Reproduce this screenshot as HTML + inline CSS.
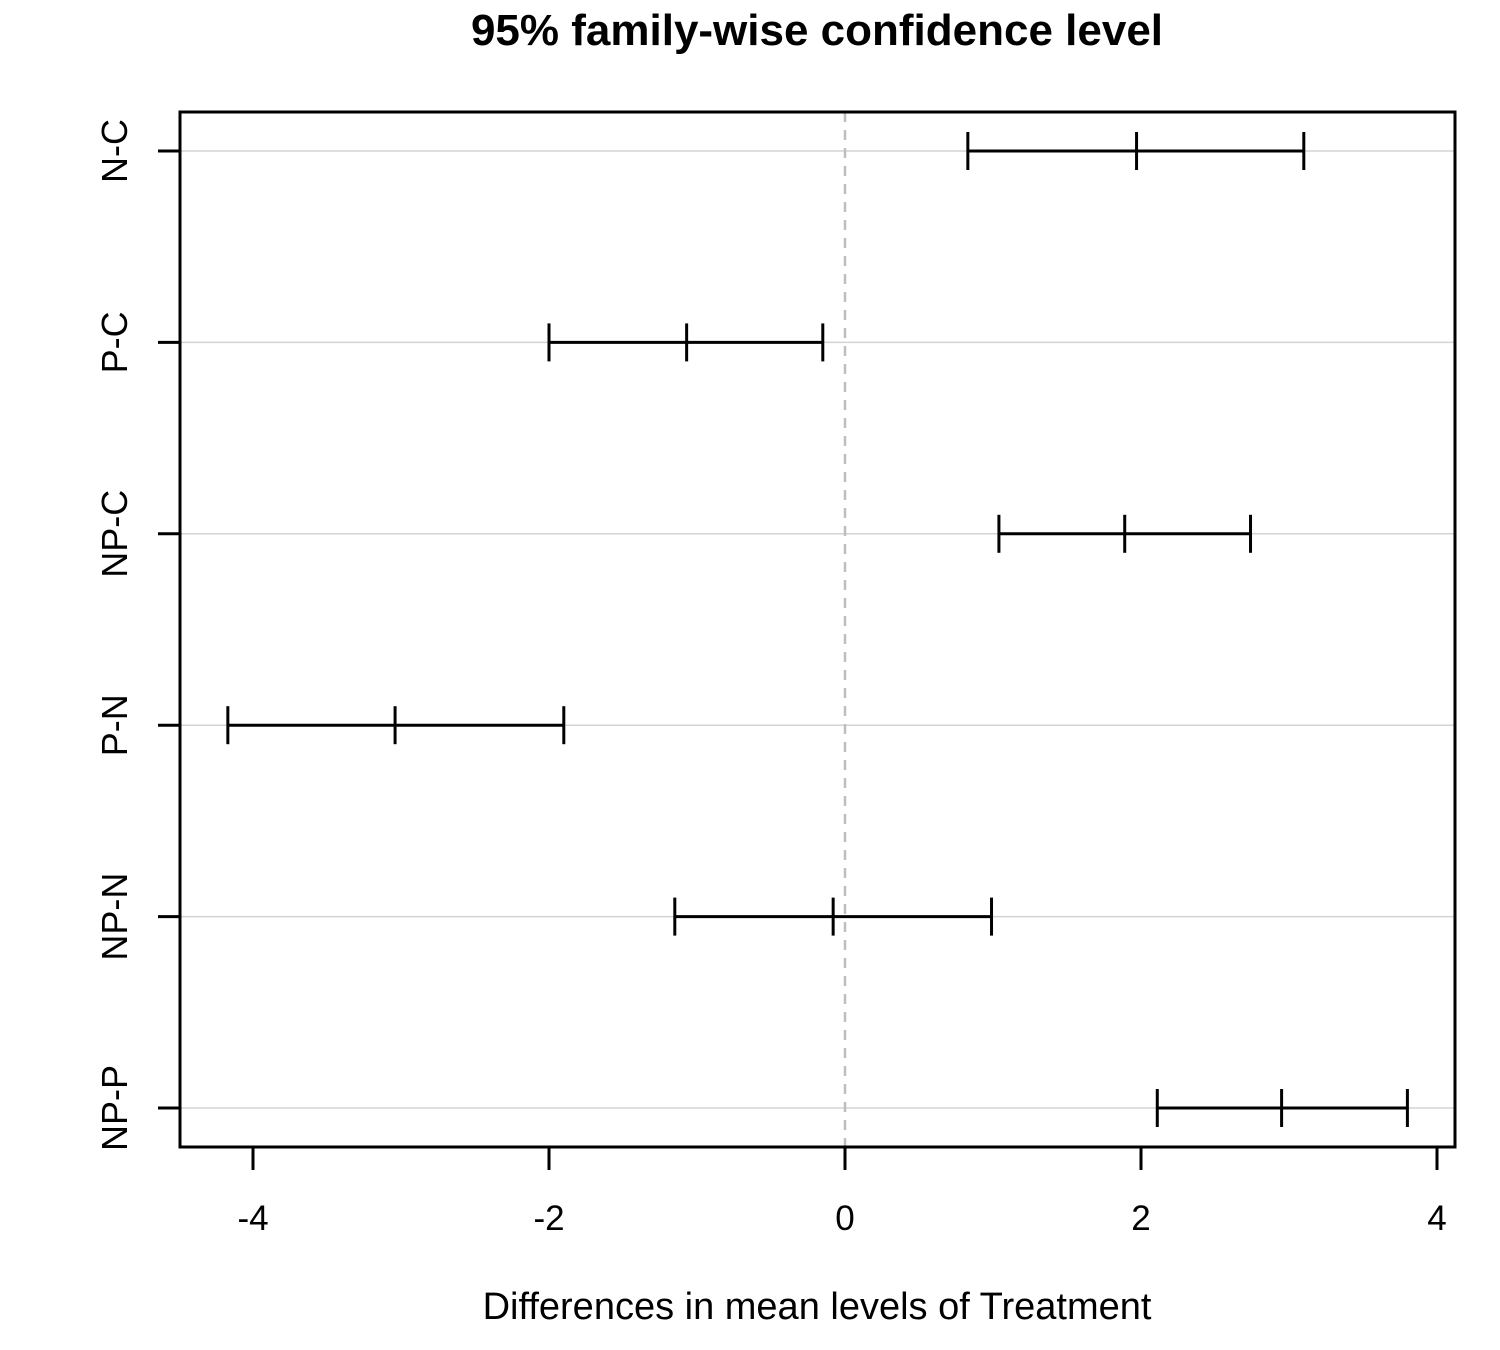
<!DOCTYPE html>
<html><head><meta charset="utf-8"><style>
html,body{margin:0;padding:0;background:#fff;}
svg{display:block;font-family:"Liberation Sans",Arial,sans-serif;}
</style></head><body>
<svg id="chart" width="1500" height="1350" viewBox="0 0 1500 1350" xmlns="http://www.w3.org/2000/svg">
<text x="817" y="45" text-anchor="middle" font-size="44" font-weight="bold">95% family-wise confidence level</text>
<text x="817" y="1319" text-anchor="middle" font-size="38">Differences in mean levels of Treatment</text>
<g id="grid"></g>
<g id="marks"></g>
<g id="axes"></g>
<rect x="180" y="112" width="1275" height="1035" fill="none" stroke="#000" stroke-width="3"/>
</svg>
<script>
const categories = ["N-C","P-C","NP-C","P-N","NP-N","NP-P"];
const lowerValues = [0.83,-2.00,1.04,-4.17,-1.15,2.11];
const diffValues = [1.97,-1.07,1.89,-3.04,-0.08,2.95];
const upperValues = [3.10,-0.15,2.74,-1.90,0.99,3.80];
const xTicks = [-4,-2,0,2,4];

const NS="http://www.w3.org/2000/svg";
const L=180,R=1455,T=112,B=1147;
function xs(v){return 845+v*148;}
function ys(i){return 151+i*(1108-151)/(categories.length-1);}
function mk(parent,tag,attrs){const e=document.createElementNS(NS,tag);for(const k in attrs)e.setAttribute(k,attrs[k]);parent.appendChild(e);return e;}
const grid=document.getElementById('grid'),marks=document.getElementById('marks'),axes=document.getElementById('axes');

categories.forEach((c,i)=>{
  const y=ys(i);
  const g=mk(grid,'line',{x1:L,x2:R,y1:y,y2:y,stroke:'#d3d3d3','stroke-width':1.5});
  
  
  const t=mk(axes,'line',{x1:158,x2:L,y1:y,y2:y,stroke:'#000','stroke-width':3});
  
  
  const lb=mk(axes,'text',{x:0,y:0,transform:`translate(127,${y}) rotate(-90)`,'text-anchor':'middle','font-size':36});
  lb.textContent=c;
  
  
});

const zl=mk(grid,'line',{x1:xs(0),x2:xs(0),y1:T,y2:B,stroke:'#bebebe','stroke-width':2.5,'stroke-dasharray':'10,8'});



xTicks.forEach(v=>{
  const x=xs(v);
  const t=mk(axes,'line',{x1:x,x2:x,y1:B,y2:1170,stroke:'#000','stroke-width':3});
  
  
  const lb=mk(axes,'text',{x:x,y:1230,'text-anchor':'middle','font-size':35});
  lb.textContent=String(v);
  
  
});
const xa=mk(axes,'line',{x1:xs(xTicks[0]),x2:xs(xTicks[xTicks.length-1]),y1:B,y2:B,stroke:'#000','stroke-width':3});



categories.forEach((c,i)=>{
  const y=ys(i);
  const g=mk(marks,'g',{});
  
  
  mk(g,'line',{x1:xs(lowerValues[i]),x2:xs(upperValues[i]),y1:y,y2:y,stroke:'#000','stroke-width':3});
  [lowerValues[i],diffValues[i],upperValues[i]].forEach(v=>{
    mk(g,'line',{x1:xs(v),x2:xs(v),y1:y-19,y2:y+19,stroke:'#000','stroke-width':3});
  });
});
</script>
</body></html>
